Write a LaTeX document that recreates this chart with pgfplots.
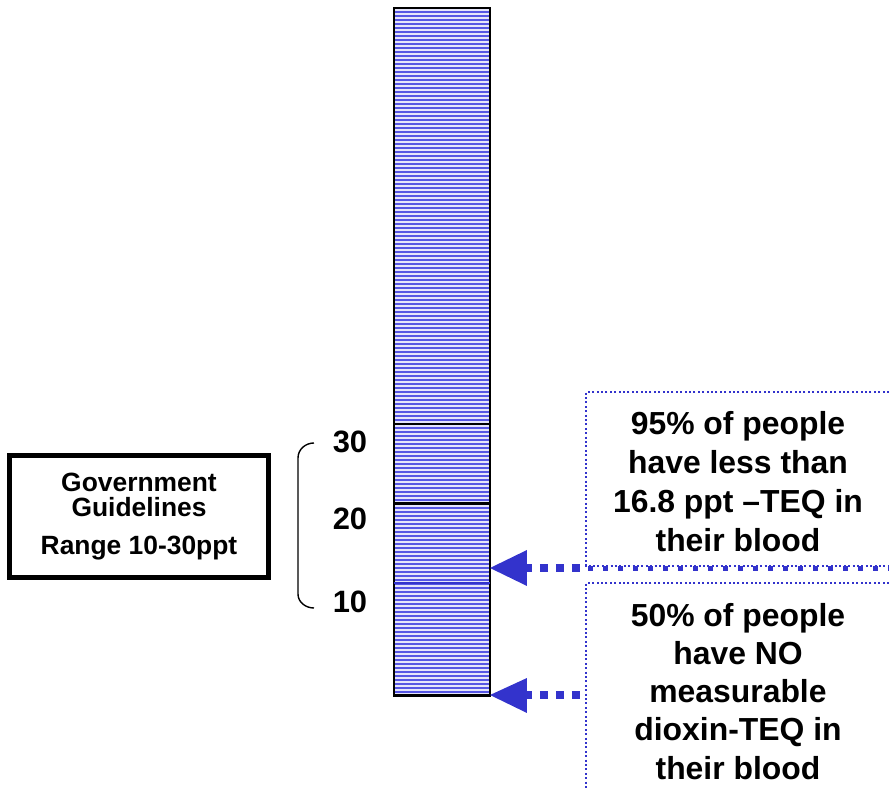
\documentclass[border=0pt]{standalone}
\usepackage{pgfplots}
\pgfplotsset{compat=1.18}
\usepackage{fontspec}
\setmainfont{Liberation Sans}
\usetikzlibrary{patterns.meta}
\definecolor{arrowblue}{RGB}{51,51,204}
\definecolor{stripeblue}{RGB}{85,85,228}
\definecolor{stripebg}{RGB}{228,228,250}

\begin{document}
\begin{tikzpicture}
\begin{axis}[
    width=48bp, height=343.75bp, scale only axis,
    xmin=394, xmax=490,
    ymin=-4.151, ymax=82.327,
    hide axis, clip=false,
  ]
  % the bar (ppt TEQ)
  \addplot[draw=black, line width=1.2bp, preaction={fill=stripebg},
    pattern={Lines[angle=0,distance=2bp,line width=0.95bp]}, pattern color=stripeblue]
    coordinates {(394,-4.151)(490,-4.151)(490,82.327)(394,82.327)} -- cycle;
  % guideline levels
  \addplot[black, line width=1.3bp] coordinates {(394,30)(490,30)};
  \addplot[black, line width=1.3bp] coordinates {(394,20)(490,20)};
  \addplot[arrowblue, line width=0.9bp] coordinates {(394,10)(490,10)};

  % level labels and brace
  \node[font=\fontsize{15.5}{15.5}\selectfont\bfseries] at (axis cs:350,27.736) {30};
  \node[font=\fontsize{15.5}{15.5}\selectfont\bfseries] at (axis cs:350,18.050) {20};
  \node[font=\fontsize{15.5}{15.5}\selectfont\bfseries] at (axis cs:350,7.610) {10};
  \draw[line width=0.7bp] (axis cs:314,27.61) to[out=180,in=90] (axis cs:298,25.723)
    -- (axis cs:298,8.616) to[out=-90,in=180] (axis cs:314,6.855);

  % guidelines box
  \draw[line width=2.5bp] (axis cs:9.5,26.038) rectangle (axis cs:268.5,10.692);
  \node[font=\fontsize{13.25}{12.5}\selectfont\bfseries, align=center]
    at (axis cs:139,18.365) {Government\\Guidelines\\[6.5bp]Range 10-30ppt};

  % dotted callout boxes
  \draw[arrowblue, line width=0.75bp, dash pattern=on 1bp off 1.2bp]
    (axis cs:889,34.025) -- (axis cs:586,34.025) -- (axis cs:586,12.138) -- (axis cs:889,12.138);
  \draw[arrowblue, line width=0.75bp, dash pattern=on 1bp off 1.2bp]
    (axis cs:889,10) -- (axis cs:586,10) -- (axis cs:586,-15.786);

  % arrows
  \fill[arrowblue] (axis cs:490,11.887) -- (axis cs:527,14.151) -- (axis cs:527,9.623) -- cycle;
  \draw[arrowblue, line width=4bp, dash pattern=on 4bp off 4bp]
    (axis cs:524,11.887) -- (axis cs:586,11.887);
  \draw[arrowblue, line width=2.5bp, dash pattern=on 2.5bp off 5bp]
    (axis cs:588,11.761) -- (axis cs:889,11.761);
  \fill[arrowblue] (axis cs:490,-4.088) -- (axis cs:527,-1.950) -- (axis cs:527,-6.352) -- cycle;
  \draw[arrowblue, line width=4bp, dash pattern=on 4bp off 4bp]
    (axis cs:524,-4.088) -- (axis cs:586,-4.088);

  % callout texts
  \node[font=\fontsize{16}{19.5}\selectfont\bfseries, align=center] at (axis cs:738,22.767)
    {95\% of people\\have less than\\16.8 ppt –TEQ in\\their blood};
  \node[font=\fontsize{16}{19.1}\selectfont\bfseries, align=center] at (axis cs:738,-3.648)
    {50\% of people\\have NO\\measurable\\dioxin-TEQ in\\their blood};

  \coordinate (bbA) at (axis cs:0,-15.786);
  \coordinate (bbB) at (axis cs:889,83.333);
\end{axis}
\pgfresetboundingbox
\path[use as bounding box] (bbA) rectangle (bbB);
\end{tikzpicture}
\end{document}
